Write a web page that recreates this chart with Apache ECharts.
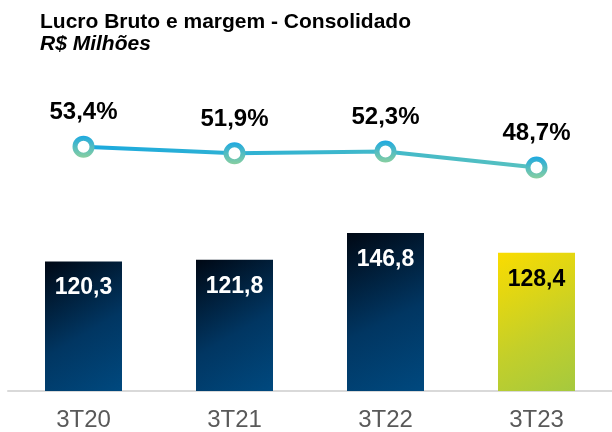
<!DOCTYPE html>
<html>
<head>
<meta charset="utf-8">
<script src="https://cdn.jsdelivr.net/npm/echarts@6/dist/echarts.min.js"></script>
<style>
  html, body { margin: 0; padding: 0; background: #fff; }
  #chart { width: 612px; height: 432px; }
</style>
</head>
<body>
<div id="chart"></div>
<script>
// Lucro Bruto e margem - Consolidado
const categories = ['3T20', '3T21', '3T22', '3T23'];
const grossProfit = [120.3, 121.8, 146.8, 128.4];
const margin = [53.4, 51.9, 52.3, 48.7];

function fmt(v, suffix) {
    return v.toFixed(1).replace('.', ',') + (suffix || '');
}

const navyFill = new echarts.graphic.LinearGradient(0, 0, 1, 1, [
    { offset: 0, color: '#000814' },
    { offset: 0.55, color: '#013662' },
    { offset: 1, color: '#00497f' }
]);
const greenFill = new echarts.graphic.LinearGradient(0, 0, 1, 1, [
    { offset: 0, color: '#fadc00' },
    { offset: 0.6, color: '#c3cf2a' },
    { offset: 1, color: '#a5c93e' }
]);

const chart = echarts.init(document.getElementById('chart'));

const option = {
    backgroundColor: '#fff',
    animation: false,
    textStyle: { fontFamily: 'Liberation Sans, Arial, sans-serif' },
    title: [
        {
            text: 'Lucro Bruto e margem - Consolidado',
            left: 35,
            top: 7,
            textStyle: { fontSize: 21, fontWeight: 'bold', color: '#000' }
        },
        {
            text: 'R$ Milhões',
            left: 35,
            top: 29,
            textStyle: { fontSize: 21, fontWeight: 'bold', fontStyle: 'italic', color: '#000' }
        }
    ],
    grid: {
        left: 8,
        top: 68,
        width: 608,
        bottom: 39,
        containLabel: false
    },
    xAxis: {
        type: 'category',
        data: categories,
        axisTick: { show: false },
        axisLine: { lineStyle: { color: '#d9d9d9', width: 2 } },
        axisLabel: { fontSize: 24, color: '#595959', margin: 17 }
    },
    yAxis: [
        { type: 'value', min: 0, max: 300, show: false },
        { type: 'value', min: -1.6, max: 71.1, show: false }
    ],
    series: [
        {
            name: 'Lucro Bruto',
            type: 'bar',
            barWidth: 77,
            data: grossProfit.map((v, i) => ({
                value: v,
                itemStyle: { color: i === 3 ? greenFill : navyFill },
                label: { color: i === 3 ? '#000' : '#fff' }
            })),
            label: {
                show: true,
                position: 'insideTop',
                distance: 15,
                fontSize: 23,
                fontWeight: 'bold',
                formatter: p => fmt(p.value)
            }
        },
        {
            name: 'Margem',
            type: 'line',
            yAxisIndex: 1,
            data: margin,
            symbol: 'circle',
            symbolSize: 17,
            lineStyle: {
                width: 4,
                color: new echarts.graphic.LinearGradient(0, 0, 1, 0, [
                    { offset: 0, color: '#1aa9de' },
                    { offset: 1, color: '#57c1bf' }
                ])
            },
            itemStyle: {
                color: '#fff',
                borderWidth: 5,
                borderColor: new echarts.graphic.LinearGradient(0, 0, 0, 1, [
                    { offset: 0, color: '#1ea9e1' },
                    { offset: 1, color: '#88cfa0' }
                ])
            },
            label: {
                show: true,
                position: 'top',
                distance: 11,
                fontSize: 24,
                fontWeight: 'bold',
                color: '#000',
                formatter: p => fmt(p.value, '%')
            },
            z: 3
        }
    ]
};

chart.setOption(option);
</script>
</body>
</html>
